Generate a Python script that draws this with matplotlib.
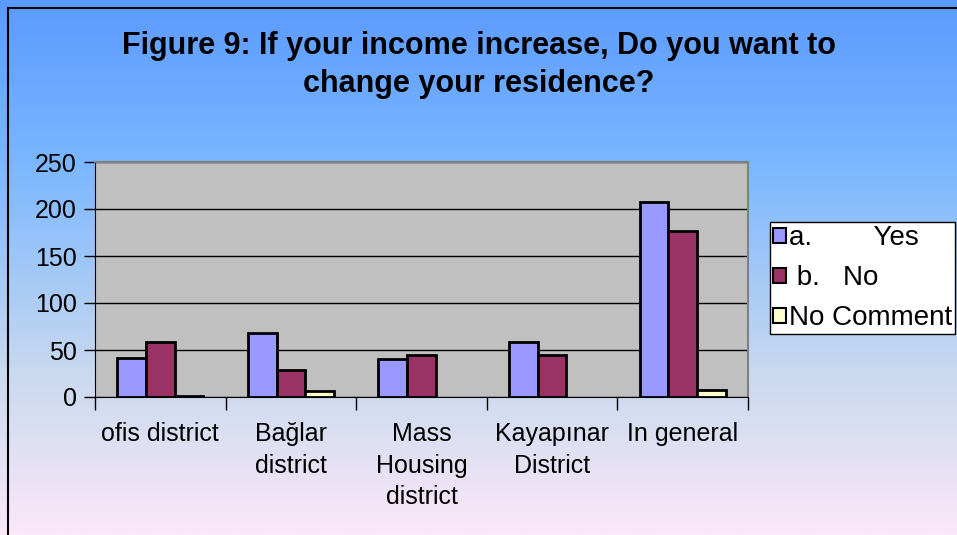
import numpy as np
import matplotlib.pyplot as plt
from matplotlib.colors import LinearSegmentedColormap
from matplotlib.lines import Line2D

plt.rcParams['font.family'] = ['Liberation Sans', 'DejaVu Sans']

# Data
categories = ['ofis district', 'Bağlar\ndistrict', 'Mass\nHousing\ndistrict',
              'Kayapınar\nDistrict', 'In general']
yes_vals = [41, 68, 40, 59, 207]
no_vals = [58, 29, 45, 45, 177]
nocomment_vals = [1, 6, 0, 0, 7]
series_labels = ['a.        Yes', ' b.   No', 'No Comment']
series_colors = ['#9999FF', '#993366', '#FFFFCC']

fig = plt.figure(figsize=(9.57, 5.35), dpi=100)

# gradient background (blue at the top, pale pink at the bottom)
bg = fig.add_axes([0, 0, 1, 1], zorder=-10)
grad_cmap = LinearSegmentedColormap.from_list(
    'bg', [(0.0, '#5b9bff'), (0.3, '#7ab6ff'), (0.7, '#c9d9ef'), (1.0, '#fbe8f8')])
bg.imshow(np.linspace(0, 1, 256).reshape(-1, 1), aspect='auto', cmap=grad_cmap,
          extent=[0, 1, 0, 1], origin='upper')
bg.set_axis_off()

# black border along top and left edges
fig.add_artist(Line2D([8 / 957, 8 / 957], [0, 1 - 8 / 535], color='black', lw=1.5,
                      transform=fig.transFigure))
fig.add_artist(Line2D([8 / 957, 1], [1 - 8 / 535, 1 - 8 / 535], color='black', lw=1.5,
                      transform=fig.transFigure))

ax = fig.add_axes([95 / 957, 1 - 397 / 535, (748 - 95) / 957, (397 - 162) / 535])
ax.set_facecolor('#C0C0C0')

x = np.arange(len(categories))
w = 0.22
all_vals = [yes_vals, no_vals, nocomment_vals]
for i, (vals, lab, col) in enumerate(zip(all_vals, series_labels, series_colors)):
    # zero-height bars get no outline, as in the original
    lws = [2 if v > 0 else 0 for v in vals]
    ax.bar(x + (i - 1) * w, vals, width=w, color=col, edgecolor='black',
           linewidth=lws, label=lab, zorder=3)

ax.set_xlim(-0.5, len(categories) - 0.5)
ax.set_ylim(0, 250)
ax.set_yticks(range(0, 251, 50))
ax.yaxis.grid(True, color='black', linewidth=1, zorder=1)
ax.set_axisbelow(True)

ax.set_xticks(x)
ax.set_xticklabels(categories, fontsize=18, linespacing=1.4)
ax.tick_params(axis='x', which='major', length=0, pad=18)
ax.set_xticks(np.arange(-0.5, len(categories), 1), minor=True)
ax.tick_params(axis='x', which='minor', length=9, direction='out', width=1)
ax.tick_params(axis='y', length=8, direction='out', labelsize=18, pad=5, width=1)

for s in ['left', 'bottom']:
    ax.spines[s].set_color('black')
for s in ['top', 'right']:
    ax.spines[s].set_color('#808080')
    ax.spines[s].set_linewidth(1.5)

fig.text(0.5, 1 - 46 / 535, 'Figure 9: If your income increase, Do you want to',
         ha='center', va='center', fontsize=22, fontweight='bold')
fig.text(0.5, 1 - 84 / 535, 'change your residence?',
         ha='center', va='center', fontsize=22, fontweight='bold')

leg = ax.legend(loc='upper left', bbox_to_anchor=(770 / 957, 1 - 222 / 535),
                bbox_transform=fig.transFigure, fontsize=20, frameon=True,
                fancybox=False, edgecolor='black', framealpha=1,
                handlelength=0.45, handleheight=0.45, handletextpad=0.1,
                labelspacing=0.5, borderpad=0.12, borderaxespad=0)
leg.get_frame().set_facecolor('#ffffff')
leg.get_frame().set_alpha(None)
leg.get_frame().set_linewidth(1)
for h in leg.legend_handles:
    h.set_linewidth(1.5)

fig.savefig('out.png', dpi=100)
